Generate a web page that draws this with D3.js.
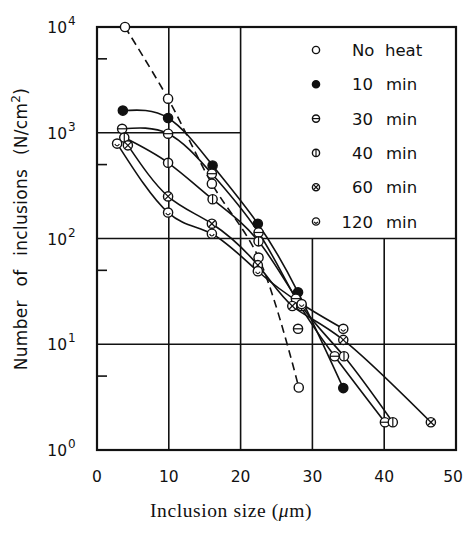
<!DOCTYPE html>
<html><head><meta charset="utf-8">
<script src="https://cdn.jsdelivr.net/npm/d3@7"></script>
<style>body{margin:0;background:#fff}svg{display:block}</style>
</head><body>
<svg id="c" width="463" height="534"></svg>
<script>
// ---- data ----
const xTicks = [0, 10, 20, 30, 40, 50];
const yTickExps = [0, 1, 2, 3, 4];
const seriesNames = ["No heat", "10 min", "30 min", "40 min", "60 min", "120 min"];
const noHeat  = [[3.9, 10000], [9.9, 2100], [16.0, 330], [22.5, 66], [28.1, 3.9]];
const min10   = [[3.6, 1620], [9.9, 1380], [16.1, 490], [22.4, 138], [28.0, 31], [34.3, 3.85]];
const min30   = [[3.5, 1090], [9.9, 980], [16.0, 410], [22.5, 114], [27.7, 27], [33.1, 7.7], [40.1, 1.83]];
const min40   = [[3.8, 900], [9.9, 520], [16.1, 235], [22.5, 94], [28.5, 23], [34.4, 7.7], [41.2, 1.83]];
const min60   = [[4.3, 760], [9.9, 250], [16.0, 138], [22.4, 56], [27.2, 23], [34.3, 11], [46.5, 1.83]];
const min120  = [[2.8, 790], [9.9, 176], [16.0, 111], [22.4, 49], [28.5, 24], [34.3, 14]];
const looseMarks = [["30 min", 28.0, 14]];

const seriesData = [noHeat, min10, min30, min40, min60, min120];
const markerKind = ["open", "filled", "hbar", "vbar", "cross", "hook"];

// ---- drawing ----
const svg = d3.select("#c");
const L = 97, R = 456, T = 27, B = 450;
const x = d3.scaleLinear().domain([0, 50]).range([L, R]);
const y = d3.scaleLog().domain([1, 10000]).range([B, T]);

const g = svg.append("g");
const lineColor = "#111";

// grid (legend cell x 20..50, y 1e2..1e4 has no inner lines)
[10, 20].forEach(v => g.append("line").attr("x1", x(v)).attr("x2", x(v)).attr("y1", T).attr("y2", B)
  .attr("stroke", lineColor).attr("stroke-width", 1.6));
[30, 40].forEach(v => g.append("line").attr("x1", x(v)).attr("x2", x(v)).attr("y1", y(100)).attr("y2", B)
  .attr("stroke", lineColor).attr("stroke-width", 1.6));
[10, 100].forEach(v => g.append("line").attr("x1", L).attr("x2", R).attr("y1", y(v)).attr("y2", y(v))
  .attr("stroke", lineColor).attr("stroke-width", 1.6));
g.append("line").attr("x1", L).attr("x2", x(20)).attr("y1", y(1000)).attr("y2", y(1000))
  .attr("stroke", lineColor).attr("stroke-width", 1.6);

// minor ticks at 5 x 10^n
[5, 50, 500, 5000].forEach(v => g.append("line").attr("x1", L).attr("x2", L + 10)
  .attr("y1", y(v)).attr("y2", y(v)).attr("stroke", lineColor).attr("stroke-width", 1.6));

// frame
g.append("rect").attr("x", L).attr("y", T).attr("width", R - L).attr("height", B - T)
  .attr("fill", "none").attr("stroke", lineColor).attr("stroke-width", 2.2);

// tick labels
const fontSans = "'DejaVu Sans', 'Liberation Sans', sans-serif";
xTicks.forEach(v => svg.append("text").attr("x", v === 50 ? 453 : x(v)).attr("y", 482)
  .attr("text-anchor", "middle").attr("font-family", fontSans).attr("font-size", 15.5)
  .attr("fill", "#111").text(v));
yTickExps.forEach(e => {
  svg.append("text").attr("x", 67).attr("y", y(Math.pow(10, e)) + 6)
    .attr("text-anchor", "end").attr("font-family", fontSans).attr("font-size", 15.5).attr("fill", "#111").text("10");
  svg.append("text").attr("x", 68).attr("y", y(Math.pow(10, e)) - 2)
    .attr("font-family", fontSans).attr("font-size", 12).attr("fill", "#111").text(e);
});

// axis titles
svg.append("text").attr("transform", "translate(27,229) rotate(-90)")
  .attr("text-anchor", "middle").attr("font-family", fontSans).attr("font-size", 17)
  .attr("word-spacing", 8).attr("letter-spacing", 0.3).attr("fill", "#111")
  .call(t => {
    t.append("tspan").text("Number of inclusions (N/cm");
    t.append("tspan").attr("dy", -7).attr("font-size", 12).text("2");
    t.append("tspan").attr("dy", 7).text(")");
  });
svg.append("text").attr("x", 231).attr("y", 517).attr("text-anchor", "middle")
  .attr("font-family", "'Liberation Serif', 'DejaVu Serif', serif").attr("font-size", 19.5)
  .attr("letter-spacing", 0.6).attr("fill", "#111")
  .call(t => {
    t.append("tspan").text("Inclusion size (");
    t.append("tspan").attr("font-style", "italic").text("μ");
    t.append("tspan").text("m)");
  });

// lines
const dashedLine = d3.line().x(d => x(d[0])).y(d => y(d[1])).curve(d3.curveCatmullRom.alpha(0.5));
const solidLine = d3.line().x(d => x(d[0])).y(d => y(d[1])).curve(d3.curveNatural);
seriesData.forEach((s, i) => {
  g.append("path").attr("d", (i === 0 ? dashedLine : solidLine)(s)).attr("fill", "none").attr("stroke", lineColor)
    .attr("stroke-width", 1.6).attr("stroke-dasharray", i === 0 ? "8,5" : null);
});

// markers
function marker(sel, kind, cx, cy, r) {
  const m = sel.append("g").attr("transform", `translate(${cx},${cy})`);
  m.append("circle").attr("r", r).attr("fill", kind === "filled" ? lineColor : "#fff")
    .attr("stroke", lineColor).attr("stroke-width", 1.4);
  const sw = 1.2;
  if (kind === "hbar") m.append("line").attr("x1", -r).attr("x2", r).attr("stroke", lineColor).attr("stroke-width", sw);
  if (kind === "vbar") m.append("line").attr("y1", -r).attr("y2", r).attr("stroke", lineColor).attr("stroke-width", sw);
  if (kind === "cross") {
    const k = r * 0.707;
    m.append("line").attr("x1", -k).attr("y1", -k).attr("x2", k).attr("y2", k).attr("stroke", lineColor).attr("stroke-width", sw);
    m.append("line").attr("x1", -k).attr("y1", k).attr("x2", k).attr("y2", -k).attr("stroke", lineColor).attr("stroke-width", sw);
  }
  if (kind === "hook") {
    m.append("path").attr("d", `M${-r * 0.5},${r * 0.1} Q0,${r * 0.9} ${r * 0.5},${r * 0.1}`)
      .attr("fill", "none").attr("stroke", lineColor).attr("stroke-width", sw);
  }
}
seriesData.forEach((s, i) => s.forEach(d => marker(g, markerKind[i], x(d[0]), y(d[1]), 4.6)));
looseMarks.forEach(d => marker(g, markerKind[seriesNames.indexOf(d[0])], x(d[1]), y(d[2]), 4.6));

// legend
seriesNames.forEach((n, i) => {
  const yy = 50 + i * 34.3;
  marker(svg, markerKind[i], 316, yy, 3.6);
  const parts = n.split(" ");
  if (i === 0) {
    svg.append("text").attr("x", 352).attr("y", yy + 6).attr("font-family", fontSans).attr("font-size", 16.5).attr("fill", "#111").text(parts[0]);
    svg.append("text").attr("x", 385).attr("y", yy + 6).attr("font-family", fontSans).attr("font-size", 16.5).attr("fill", "#111").text(parts[1]);
  } else {
    svg.append("text").attr("x", 373).attr("y", yy + 6).attr("text-anchor", "end").attr("font-family", fontSans).attr("font-size", 16.5).attr("fill", "#111").text(parts[0]);
    svg.append("text").attr("x", 386).attr("y", yy + 6).attr("font-family", fontSans).attr("font-size", 16.5).attr("fill", "#111").text(parts[1]);
  }
});
</script>
</body></html>
